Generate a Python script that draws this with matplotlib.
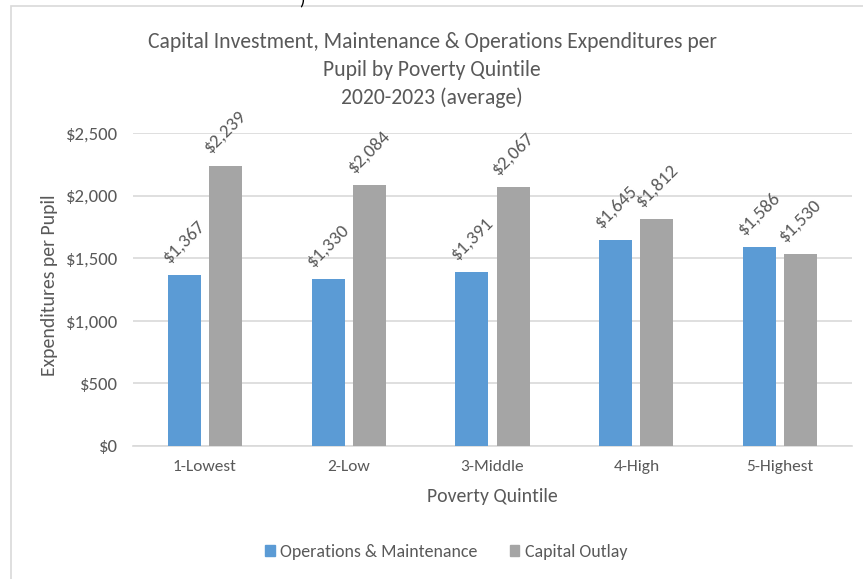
import matplotlib
matplotlib.use('Agg')
import matplotlib.pyplot as plt
from matplotlib import font_manager
from matplotlib.patches import Rectangle, Patch
import numpy as np

# data
quintiles = ['1-Lowest', '2-Low', '3-Middle', '4-High', '5-Highest']
ops_maint = [1367, 1330, 1391, 1645, 1586]
capital_outlay = [2239, 2084, 2067, 1812, 1530]
series_names = ['Operations & Maintenance', 'Capital Outlay']
y_ticks = [0, 500, 1000, 1500, 2000, 2500]

# pick a Calibri-like font if there is one
available = {f.name for f in font_manager.fontManager.ttflist}
font = 'Lato'
for name in ['Carlito', 'Calibri', 'Lato']:
    if name in available:
        font = name
        break
plt.rcParams['font.family'] = [font, 'DejaVu Sans']

text_color = '#595959'
blue = '#5B9BD5'
gray = '#A5A5A5'
grid_color = '#D9D9D9'

W, H = 863, 579
fig = plt.figure(figsize=(W / 100, H / 100), dpi=100)
fig.patch.set_facecolor('white')

# chart frame (document screenshot border)
fig.add_artist(Rectangle((11 / W, -0.02), 1.2, (H - 6) / H + 0.02,
                         transform=fig.transFigure, fill=False,
                         edgecolor=grid_color, linewidth=1.2))
# cut-off character from the document above
fig.text(302 / W, 1.0, ')', fontsize=13, color='black', ha='center', va='center')

ax = fig.add_axes([133 / W, 1 - 446 / H, (852 - 133) / W, (446 - 133) / H])

x = np.arange(len(quintiles))
bw = 0.23
off = 0.143
b1 = ax.bar(x - off, ops_maint, bw, color=blue, zorder=3)
b2 = ax.bar(x + off, capital_outlay, bw, color=gray, zorder=3)

for bars, vals in [(b1, ops_maint), (b2, capital_outlay)]:
    for rect, v in zip(bars, vals):
        ax.annotate('${:,}'.format(v), (rect.get_x() + rect.get_width() / 2, v),
                    xytext=(0, 24.5), textcoords='offset points',
                    ha='center', va='center', rotation=45,
                    fontsize=13.5, color=text_color)

ax.set_xlim(-0.5, len(quintiles) - 0.5)
ax.set_ylim(0, 2500)
ax.set_yticks(y_ticks)
ax.set_yticklabels(['${:,}'.format(t) for t in y_ticks])
ax.set_xticks(x)
ax.set_xticklabels(quintiles)
ax.grid(axis='y', color=grid_color, linewidth=1.2, zorder=0)
ax.set_axisbelow(True)
for s in ['top', 'right', 'left']:
    ax.spines[s].set_visible(False)
ax.spines['bottom'].set_color(grid_color)
ax.spines['bottom'].set_linewidth(1.2)
ax.tick_params(axis='both', length=0, colors=text_color)
ax.tick_params(axis='y', pad=11, labelsize=13.5)
ax.tick_params(axis='x', pad=10, labelsize=12.5)

ax.set_xlabel('Poverty Quintile', fontsize=14.2, color=text_color, labelpad=10)
fig.text(50 / W, 1 - 285 / H, 'Expenditures per Pupil', rotation=90,
         fontsize=14.2, color=text_color, ha='center', va='center')

fig.text(432 / W, 1 - 70 / H,
         'Capital Investment, Maintenance & Operations Expenditures per\n'
         'Pupil by Poverty Quintile\n2020-2023 (average)',
         fontsize=15.6, color=text_color, ha='center', va='center',
         linespacing=1.45)

handles = [Patch(color=blue), Patch(color=gray)]
fig.legend(handles, series_names, loc='center',
           bbox_to_anchor=(446 / W, 1 - 552 / H), ncol=2, frameon=False,
           handlelength=0.55, handleheight=0.55, handletextpad=0.3,
           columnspacing=1.8, fontsize=12.9, labelcolor=text_color)

plt.savefig('out.png', dpi=100, facecolor=fig.get_facecolor())
plt.close()
